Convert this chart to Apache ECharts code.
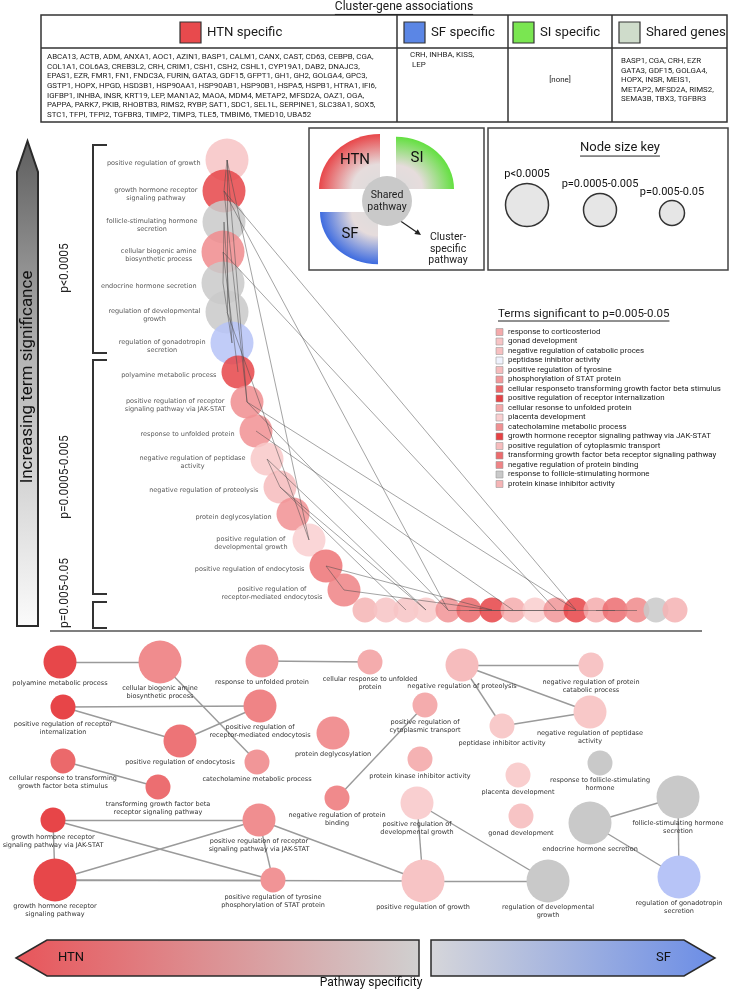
<!DOCTYPE html>
<html><head><meta charset="utf-8">
<script src="https://cdn.jsdelivr.net/npm/echarts@6/dist/echarts.min.js"></script>
<style>html,body{margin:0;padding:0;background:#fff}#c{width:730px;height:991px}</style>
</head><body><div id="c"></div>
<script>
// ================= DATA =================
const tableTitle = 'Cluster-gene associations';
const clusterHeaders = ['HTN specific', 'SF specific', 'SI specific', 'Shared genes'];
const htnGenes = [
  'ABCA13, ACTB, ADM, ANXA1, AOC1, AZIN1, BASP1, CALM1, CANX, CAST, CD63, CEBPB, CGA,',
  'COL1A1, COL6A3, CREB3L2, CRH, CRIM1, CSH1, CSH2, CSHL1, CYP19A1, DAB2, DNAJC3,',
  'EPAS1, EZR, FMR1, FN1, FNDC3A, FURIN, GATA3, GDF15, GFPT1, GH1, GH2, GOLGA4, GPC3,',
  'GSTP1, HOPX, HPGD, HSD3B1, HSP90AA1, HSP90AB1, HSP90B1, HSPA5, HSPB1, HTRA1, IFI6,',
  'IGFBP1, INHBA, INSR, KRT19, LEP, MAN1A2, MAOA, MDM4, METAP2, MFSD2A, OAZ1, OGA,',
  'PAPPA, PARK7, PKIB, RHOBTB3, RIMS2, RYBP, SAT1, SDC1, SEL1L, SERPINE1, SLC38A1, SOX5,',
  'STC1, TFPI, TFPI2, TGFBR3, TIMP2, TIMP3, TLE5, TMBIM6, TMED10, UBA52'
];
const sfGenes = ['CRH, INHBA, KISS,', ' LEP'];
const siGenes = ['[none]'];
const sharedGenes = ['BASP1, CGA, CRH, EZR', 'GATA3, GDF15, GOLGA4,', 'HOPX, INSR, MEIS1,', 'METAP2, MFSD2A, RIMS2,', 'SEMA3B, TBX3, TGFBR3'];

// GO terms, ordered by significance (chain order)
const terms = [
  'positive regulation of growth',
  'growth hormone receptor\nsignaling pathway',
  'follicle-stimulating hormone\nsecretion',
  'cellular biogenic amine\nbiosynthetic process',
  'endocrine hormone secretion',
  'regulation of developmental\ngrowth',
  'regulation of gonadotropin\nsecretion',
  'polyamine metabolic process',
  'positive regulation of receptor\nsignaling pathway via JAK-STAT',
  'response to unfolded protein',
  'negative regulation of peptidase\nactivity',
  'negative regulation of proteolysis',
  'protein deglycosylation',
  'positive regulation of\ndevelopmental growth',
  'positive regulation of endocytosis',
  'positive regulation of\nreceptor-mediated endocytosis',
  'response to corticosteroid',
  'gonad development',
  'negative regulation of protein\ncatabolic process',
  'peptidase inhibitor activity',
  'positive regulation of tyrosine\nphosphorylation of STAT protein',
  'cellular response to transforming\ngrowth factor beta stimulus',
  'positive regulation of receptor\ninternalization',
  'cellular response to unfolded\nprotein',
  'placenta development',
  'catecholamine metabolic process',
  'growth hormone receptor\nsignaling pathway via JAK-STAT',
  'positive regulation of\ncytoplasmic transport',
  'transforming growth factor beta\nreceptor signaling pathway',
  'negative regulation of protein\nbinding',
  'response to follicle-stimulating\nhormone',
  'protein kinase inhibitor activity'
];
// significance class: 1 = p<0.0005, 2 = p=0.0005-0.005, 3 = p=0.005-0.05
const termSignificance = [1,1,1,1,1,1,1, 2,2,2,2,2,2,2,2,2, 3,3,3,3,3,3,3,3,3,3,3,3,3,3,3,3];
// specificity: >0 HTN share, <0 SF share, 0 shared
const termSpecificity = [0.30,0.93,0,0.58,0,0,-0.45, 0.93,0.57,0.55,0.28,0.34,0.55,0.24,0.70,0.62,
  0.38,0.30,0.30,0.27,0.54,0.76,0.94,0.42,0.25,0.53,0.94,0.42,0.73,0.59,0,0.39];
const termLinks = [[7,3],[3,25],[9,23],[22,15],[22,14],[14,15],[21,28],[26,8],[26,20],[26,1],
  [1,8],[1,20],[1,0],[8,20],[8,0],[29,27],[11,18],[11,10],[11,19],[19,10],[13,0],[13,5],[0,5],
  [4,2],[4,6],[2,6]];
const pClasses = ['p<0.0005', 'p=0.0005-0.005', 'p=0.005-0.05'];
const legendTerms = ['response to corticosteriod','gonad development','negative regulation of catabolic proces',
  'peptidase inhibitor activity','positive regulation of tyrosine','phosphorylation of STAT protein',
  'cellular responseto transforming growth factor beta stimulus','positive regulation of receptor internalization',
  'cellular resonse to unfolded protein','placenta development','catecholamine metabolic process',
  'growth hormone receptor signaling pathway via JAK-STAT','positive regulation of cytoplasmic transport',
  'transforming growth factor beta receptor signaling pathway','negative regulation of protein binding',
  'response to follicle-stimulating hormone','protein kinase inhibitor activity'];
const legendSpecificity = [0.43,0.30,0.32,-0.1,0.34,0.52,0.76,0.95,0.44,0.24,0.56,0.96,0.34,0.75,0.62,0,0.38];

// ================= LAYOUT (chart units) =================
const chainLayout = [[227,160],[224,191],[224,222],[223,252],[223,283],[227,312],[232,343],
  [238,372],[247,402],[256,431],[267,459],[280,487],[293,514],[309,540],[326,566],[344,590],
  [365,610],[386,610],[406,610],[426,610],[448,610],[469,610],[492,610],[513,610],[535,610],
  [556,610],[576,610],[596,610],[615,610],[637,610],[656,610],[675,610]];
const netLayout = [[423,881],[55,880],[678,797],[160,662],[590,823],[548,881],[679,877],
  [60,662],[259,820],[262,661],[590,712],[462,665],[333,733],[417,803],[180,741],[260,706],
  null,[521,816],[591,665],[502,726],[273,880],[63,761],[63,707],[370,662],[518,775],[257,762],
  [53,820],[425,705],[158,787],[337,798],[600,763],[420,759]];
const nodeSizeByClass = [43, 33, 25];

// ================= HELPERS =================
function mix(c, a) { return 'rgb(' + c.map(v => Math.round(255 - (255 - v) * a)).join(',') + ')'; }
function specColor(s) {
  if (s > 0) return mix([229, 57, 60], s);
  if (s < 0) return mix([96, 124, 238], -s);
  return '#c9c9c9';
}
const mctx = document.createElement('canvas').getContext('2d');
function tw(s, size, fam) { mctx.font = size + 'px ' + fam; return Math.max(...s.split('\n').map(l => mctx.measureText(l).width)); }

const G = [];
function T(x, y, text, size, o) {
  o = o || {};
  G.push({ type: 'text', x: x, y: y, rotation: o.rot || 0, silent: true, z: 20,
    style: { text: text, fill: o.color || '#1a1a1a', fontSize: size, fontFamily: o.family || 'Roboto',
      fontWeight: o.weight || 'normal', align: o.align || 'center', verticalAlign: o.va || 'middle',
      textAlign: o.align || 'center', textVerticalAlign: o.va || 'middle', lineHeight: o.lh || Math.round(size * 1.15) } });
}
function L(x1, y1, x2, y2, w, c) { G.push({ type: 'line', silent: true, z: 15, shape: { x1, y1, x2, y2 }, style: { stroke: c || '#333', lineWidth: w || 1.5 } }); }
function R(x, y, w, h, fill, stroke, lw) { G.push({ type: 'rect', silent: true, z: 14, shape: { x, y, width: w, height: h }, style: { fill: fill || null, stroke: stroke || null, lineWidth: lw || 1 } }); }
function underlined(x, y, text, size) {
  T(x, y, text, size);
  const w = tw(text, size, 'Roboto');
  L(x - w / 2, y + size * 0.62, x + w / 2, y + size * 0.62, 1, '#222');
}

// ---------- table ----------
underlined(404, 7, tableTitle, 12);
R(41, 15, 686, 107, null, '#333', 1.5);
L(41, 48, 727, 48, 1.5);
[397, 508, 612].forEach(x => L(x, 15, x, 122, 1.5));
const headerSq = [[180, '#e84a4d'], [404, '#5b86e5'], [513, '#7ae651'], [619, '#cfdccb']];
clusterHeaders.forEach((h, i) => {
  R(headerSq[i][0], 22, 21, 21, headerSq[i][1], '#333', 1.2);
  T(headerSq[i][0] + 27, 33, h, 13.2, { align: 'left' });
});
htnGenes.forEach((g, i) => T(47, 57 + 9.7 * i, g, 7.9, { align: 'left', color: '#222' }));
sfGenes.forEach((g, i) => T(410, 55 + 9.7 * i, g, 7.9, { align: 'left', color: '#222' }));
siGenes.forEach((g) => T(560, 80, g, 7.9, { color: '#222' }));
sharedGenes.forEach((g, i) => T(621, 61 + 9.6 * i, g, 7.9, { align: 'left', color: '#222' }));

// ---------- significance arrow ----------
G.push({ type: 'polygon', silent: true, z: 10,
  shape: { points: [[27.5, 141], [38, 172], [38, 626], [17, 626], [17, 172]] },
  style: { stroke: '#2a2a2a', lineWidth: 2,
    fill: { type: 'linear', x: 0, y: 0, x2: 0, y2: 1, colorStops: [{ offset: 0, color: '#5e5e5e' }, { offset: 0.45, color: '#b5b5b5' }, { offset: 1, color: '#fbfbfb' }] } } });
(function () {
  const t = 'Increasing term significance';
  const fs = 22 * 213 / tw(t, 22, 'Roboto');
  T(28, 377, t, fs, { rot: Math.PI / 2, color: '#111' });
})();
// brackets and p-class labels
const brackets = [[145, 353], [360, 594], [602, 628]];
const pLabelY = [268, 477, 593];
brackets.forEach((b, i) => {
  G.push({ type: 'polyline', silent: true, z: 15, shape: { points: [[107, b[0]], [93, b[0]], [93, b[1]], [107, b[1]]] }, style: { stroke: '#333', lineWidth: 2, fill: null } });
  T(65, pLabelY[i], pClasses[i], 12, { rot: Math.PI / 2, color: '#222' });
});

// ---------- cluster diagram legend ----------
R(309, 128, 175, 142, '#fff', '#444', 1.5);
R(488, 128, 240, 142, '#fff', '#444', 1.5);
function quad(cx, cy, r, a0, a1, col) {
  G.push({ type: 'sector', silent: true, z: 16, origin: [cx, cy], scaleY: 0.9,
    shape: { cx, cy, r0: 0, r, startAngle: a0, endAngle: a1, clockwise: true },
    style: { fill: { type: 'radial', x: cx, y: cy, r: r, global: true, colorStops: [{ offset: 0, color: '#dcdcdc' }, { offset: 0.45, color: '#e6dcdc' }, { offset: 1, color: col }] } } });
}
quad(380, 189, 61, Math.PI, Math.PI * 1.5, '#e8474a');
quad(396, 189, 58, Math.PI * 1.5, Math.PI * 2, '#63e040');
quad(378, 212, 58, Math.PI * 0.5, Math.PI, '#3d6be0');
G.push({ type: 'circle', silent: true, z: 17, shape: { cx: 387, cy: 201, r: 25 }, style: { fill: '#c9c9c9' } });
T(387, 201, 'Shared\npathway', 10.5, { lh: 12, color: '#222' });
T(355, 160, 'HTN', 15, { color: '#111' });
T(417, 158, 'SI', 15, { color: '#111' });
T(350, 234, 'SF', 15, { color: '#111' });
(function () {
  const x1 = 399, y1 = 220, x2 = 421, y2 = 235;
  const d = Math.hypot(x2 - x1, y2 - y1), ux = (x2 - x1) / d, uy = (y2 - y1) / d;
  L(x1, y1, x2 - ux * 5, y2 - uy * 5, 1.2, '#222');
  G.push({ type: 'polygon', silent: true, z: 18, shape: { points: [[x2, y2], [x2 - ux * 6 - uy * 3, y2 - uy * 6 + ux * 3], [x2 - ux * 6 + uy * 3, y2 - uy * 6 - ux * 3]] }, style: { fill: '#222' } });
})();
T(448, 249, 'Cluster-\nspecific\npathway', 10.5, { lh: 11.5, color: '#222' });

// ---------- node size key ----------
underlined(620, 148, 'Node size key', 13);
const keyPos = [[527, 205, 174], [600, 210, 184], [672, 213, 192]];
keyPos.forEach((k, i) => {
  G.push({ type: 'circle', silent: true, z: 17, shape: { cx: k[0], cy: k[1], r: nodeSizeByClass[i] / 2 }, style: { fill: '#e6e6e6', stroke: '#333', lineWidth: 1.5 } });
  T(k[0], k[2], pClasses[i], 11, { color: '#111' });
});

// ---------- terms legend ----------
(function () {
  const t = 'Terms significant to ' + pClasses[2];
  const w = tw(t, 11.5, 'Roboto');
  T(498 + w / 2, 314, t, 11.5);
  L(498, 321, 498 + w, 321, 1, '#222');
  legendTerms.forEach((s, i) => {
    const y = 332 + 9.5 * i;
    R(496, y - 3.5, 7, 7, specColor(legendSpecificity[i]), '#9a9a9a', 0.6);
    T(508, y, s, 7.9, { align: 'left', color: '#222' });
  });
})();

// ---------- divider ----------
L(50, 631, 702, 631, 1.5, '#555');

// ---------- pathway specificity arrows ----------
G.push({ type: 'polygon', silent: true, z: 10, shape: { points: [[16, 958], [47, 940], [419, 940], [419, 976], [47, 976]] },
  style: { stroke: '#2a2a2a', lineWidth: 1.5, fill: { type: 'linear', x: 0, y: 0, x2: 1, y2: 0, colorStops: [{ offset: 0, color: '#e8555a' }, { offset: 1, color: '#d0d0d0' }] } } });
G.push({ type: 'polygon', silent: true, z: 10, shape: { points: [[431, 940], [684, 940], [715, 958], [684, 976], [431, 976]] },
  style: { stroke: '#2a2a2a', lineWidth: 1.5, fill: { type: 'linear', x: 0, y: 0, x2: 1, y2: 0, colorStops: [{ offset: 0, color: '#d6d6da' }, { offset: 1, color: '#6b8de6' }] } } });
T(58, 958, 'HTN', 13, { align: 'left', color: '#111' });
T(656, 958, 'SF', 13, { align: 'left', color: '#111' });
T(371, 983, 'Pathway specificity', 12, { color: '#111' });

// ================= SERIES =================
const LABEL_FONT = 'DejaVu Sans';
const LABEL_SIZE = 6.5;
const chainNodes = terms.map((t, i) => {
  const item = { name: t, value: chainLayout[i], symbolSize: nodeSizeByClass[termSignificance[i] - 1],
    itemStyle: { color: specColor(termSpecificity[i]), opacity: 0.86 } };
  if (termSignificance[i] < 3) {
    const w = tw(t, LABEL_SIZE, LABEL_FONT);
    item.label = { show: true, position: 'left', align: 'center', distance: 5, offset: [-w / 2, 3] };
  }
  return item;
});
const chainEdgeNodes = chainLayout.map((p, i) => ({ name: 'e' + i, value: p, symbolSize: 0.1, itemStyle: { opacity: 0 } }));
const netNodes = [];
terms.forEach((t, i) => {
  if (!netLayout[i]) return;
  netNodes.push({ name: t, value: netLayout[i], symbolSize: nodeSizeByClass[termSignificance[i] - 1],
    itemStyle: { color: specColor(termSpecificity[i]) } });
});
const netLinks = termLinks.filter(([a, b]) => netLayout[a] && netLayout[b]).map(([a, b]) => ({ source: terms[a], target: terms[b] }));

const chart = echarts.init(document.getElementById('c'), null, { renderer: 'canvas', width: 730, height: 991 });
chart.setOption({
  animation: false,
  backgroundColor: '#ffffff',
  grid: { left: 0, right: 0, top: 0, bottom: 0 },
  xAxis: { type: 'value', min: 0, max: 730, show: false },
  yAxis: { type: 'value', min: 0, max: 991, inverse: true, show: false },
  graphic: { elements: G },
  series: [
    { type: 'graph', name: 'chainNodes', coordinateSystem: 'cartesian2d', layout: 'none', silent: true, z: 2,
      data: chainNodes, links: [],
      label: { show: false, fontSize: LABEL_SIZE, fontFamily: LABEL_FONT, color: '#3a3a3a', lineHeight: 8 } },
    { type: 'graph', name: 'chainEdges', coordinateSystem: 'cartesian2d', layout: 'none', silent: true, z: 3,
      data: chainEdgeNodes, links: termLinks.map(([a, b]) => ({ source: a, target: b })),
      lineStyle: { color: '#4a4a4a', width: 1, opacity: 0.5 }, label: { show: false } },
    { type: 'graph', name: 'network', coordinateSystem: 'cartesian2d', layout: 'none', silent: true, z: 2,
      data: netNodes, links: netLinks,
      lineStyle: { color: '#9a9a9a', width: 1.4, opacity: 1 },
      label: { show: true, position: 'bottom', distance: 1, fontSize: LABEL_SIZE, fontFamily: LABEL_FONT, color: '#333', lineHeight: 8 } }
  ]
});
</script></body></html>
